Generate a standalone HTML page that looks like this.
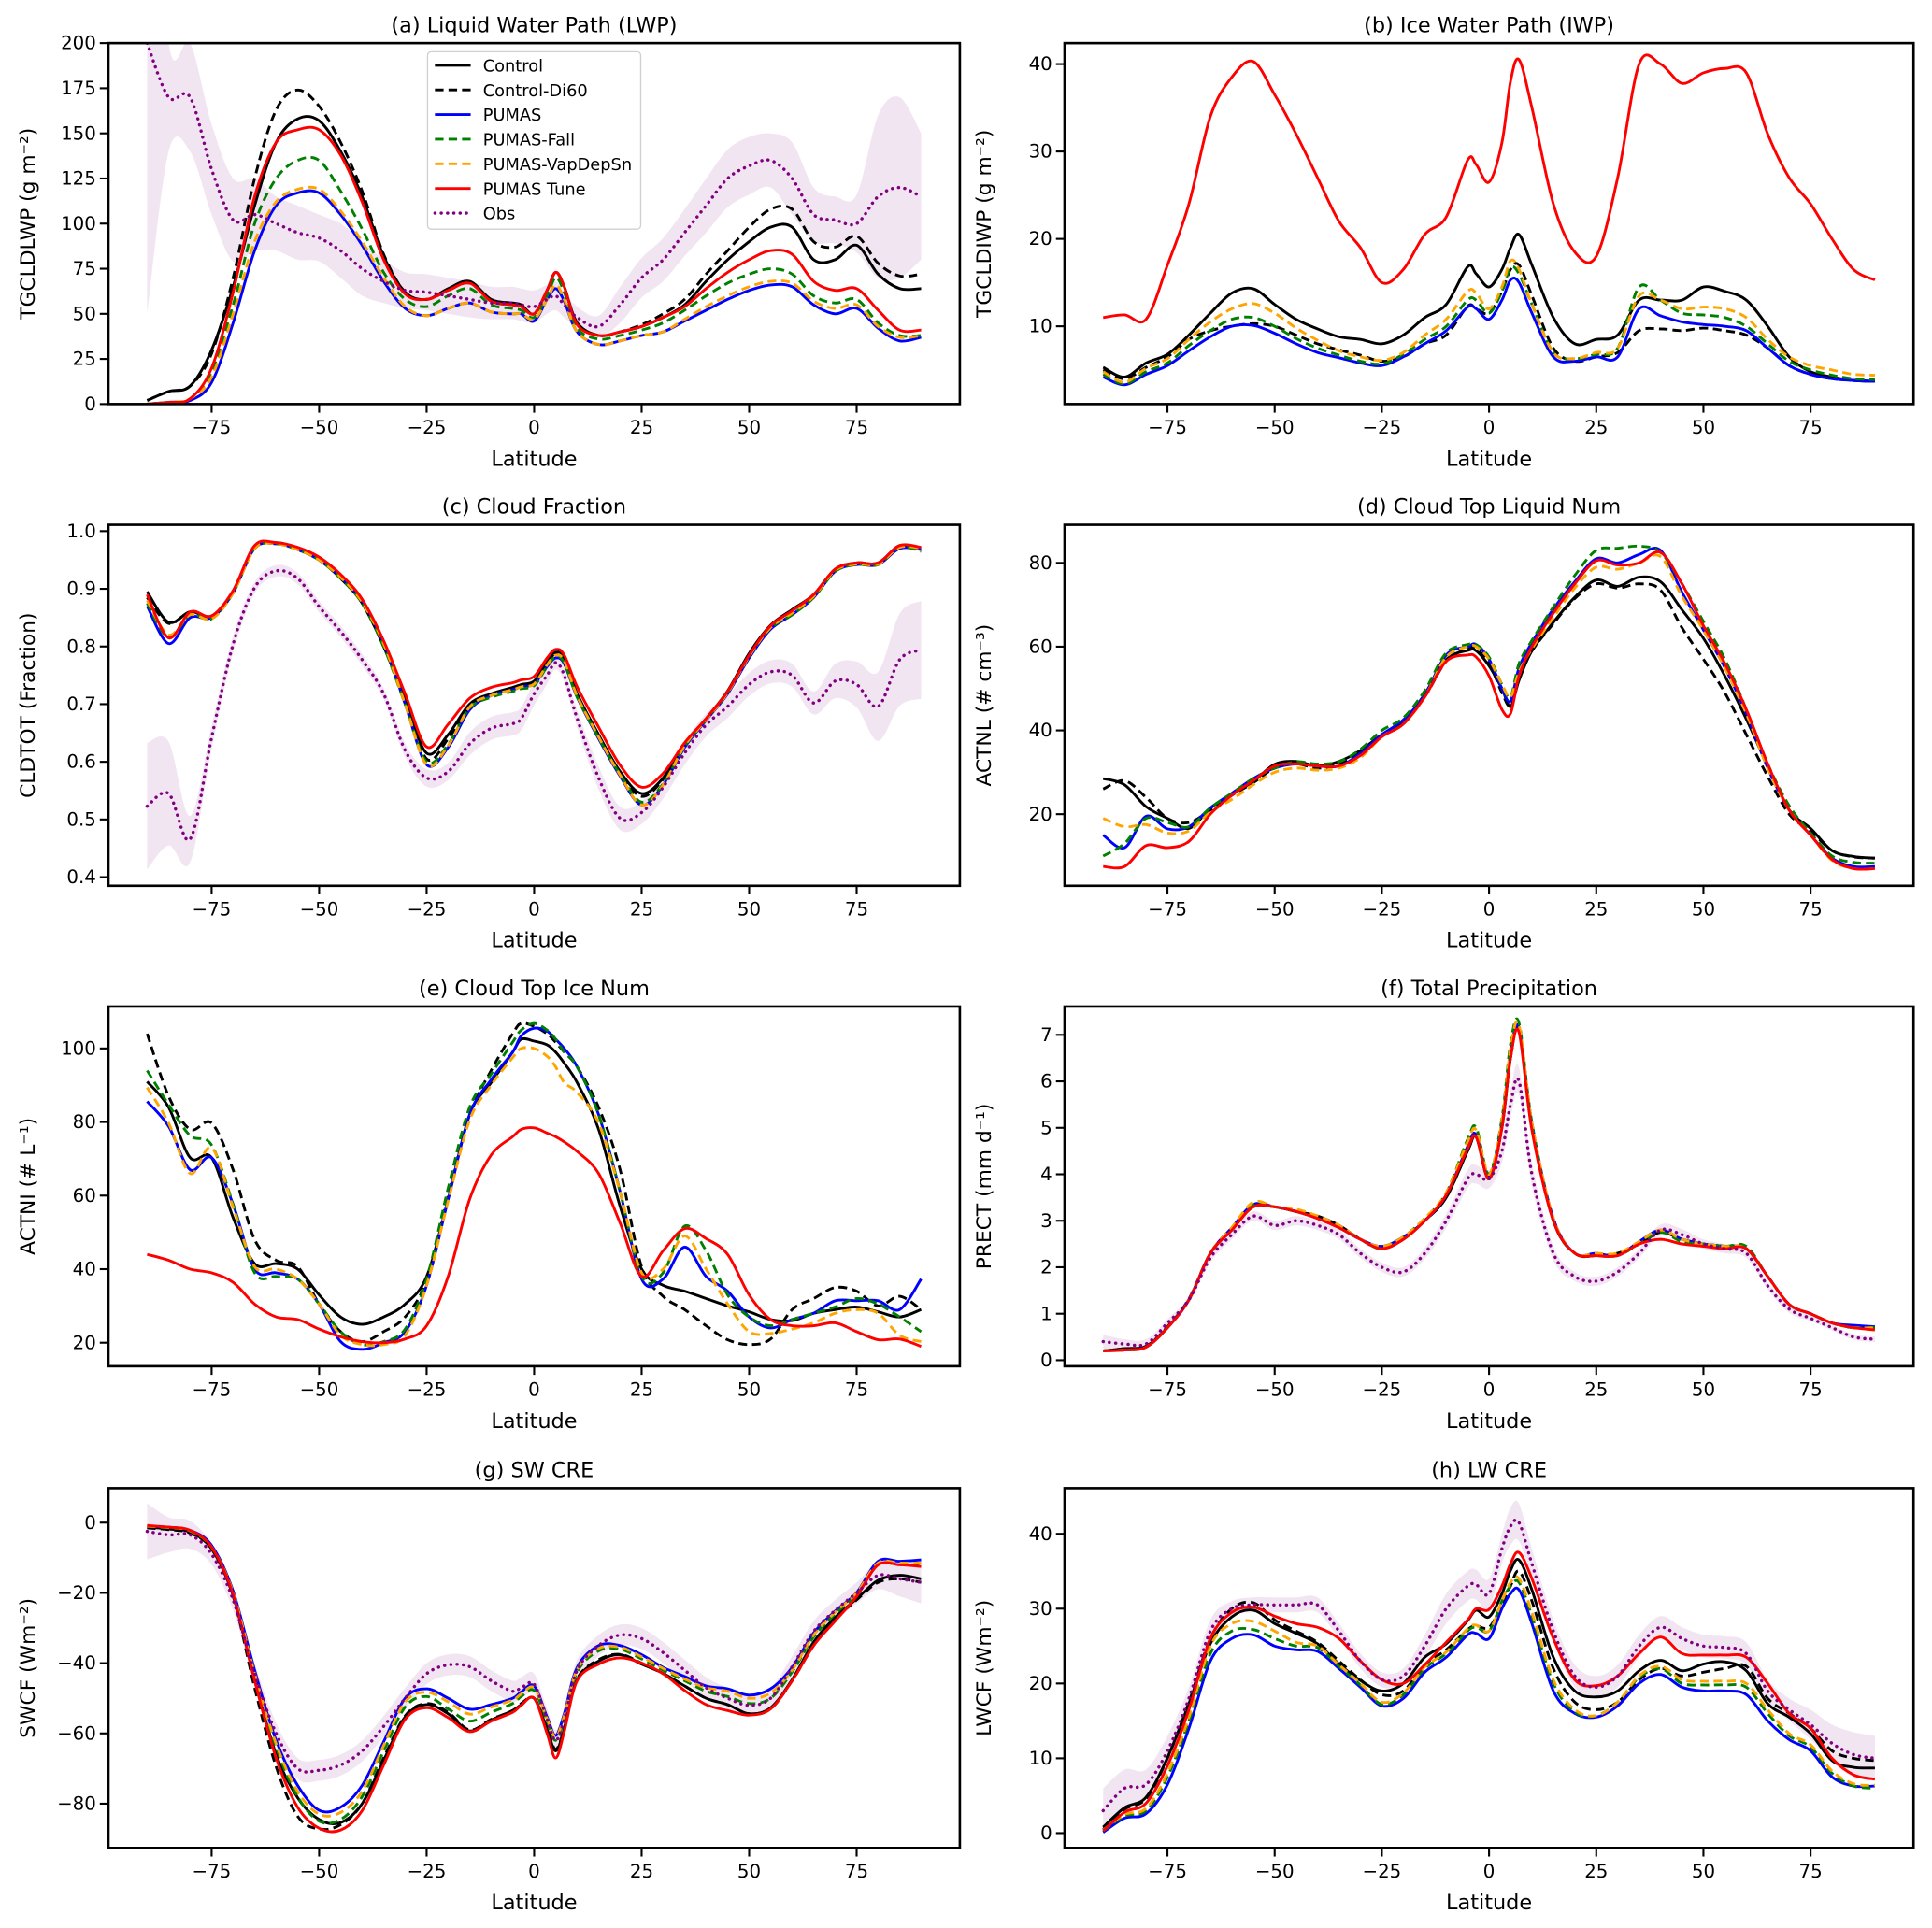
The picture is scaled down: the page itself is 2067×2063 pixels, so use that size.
<!DOCTYPE html>
<html><head><meta charset="utf-8"><style>
html,body{margin:0;padding:0;background:#fff;}
svg{display:block;font-family:"DejaVu Sans","Liberation Sans",sans-serif;}
</style></head><body>
<svg id="fig" width="2067" height="2063" viewBox="0 0 1568 1565" preserveAspectRatio="none" xmlns="http://www.w3.org/2000/svg"></svg>
<script>
const LAT=[-90,-85,-80,-75,-70,-65,-60,-55,-50,-45,-40,-35,-30,-25,-20,-15,-10,-5,-3,0,3,5,7,10,15,20,25,30,35,40,45,50,55,60,65,70,75,80,85,90];
const xTicks=[-75,-50,-25,0,25,50,75];
const seriesNames=["Control","Control-Di60","PUMAS","PUMAS-Fall","PUMAS-VapDepSn","PUMAS Tune","Obs"];

// (a) LWP
const lwpTicks=[0,25,50,75,100,125,150,175,200];
const lwpControl=[2,7,10,30,65,110,145,158,157,140,115,82,62,58,64,68,58,56,55,50,63,73,65,45,38,40,43,48,55,68,80,90,98,98,80,80,88,72,64,64];
const lwpDi60=[2,7,10,28,70,125,163,174,165,145,118,83,62,58,63,67,57,55,54,50,63,73,65,45,38,40,44,50,58,72,85,98,108,108,90,87,93,78,71,72];
const lwpPumas=[0,1,2,12,45,85,110,117,117,105,88,68,53,49,53,56,51,50,50,46,58,64,57,40,33,35,38,40,46,52,58,63,66,65,55,50,53,42,35,37];
const lwpFall=[0,1,3,18,55,100,125,135,135,118,97,73,58,54,60,64,55,53,52,48,60,70,62,42,36,38,41,45,52,60,67,72,75,72,60,56,58,45,38,38];
const lwpVap=[0,1,3,15,50,90,112,119,119,107,90,70,54,49,53,56,51,50,50,47,58,66,58,40,33,35,38,40,47,54,60,65,68,67,57,53,55,43,37,38];
const lwpTune=[0,1,3,20,62,115,145,152,152,138,112,80,61,58,63,67,57,55,54,50,63,73,65,44,38,40,43,48,54,64,73,80,85,83,68,63,64,52,41,41];
const lwpObs=[200,170,170,130,102,105,100,95,92,85,75,68,63,62,60,58,56,56,55,54,58,60,55,48,43,55,70,80,95,110,125,132,135,125,105,102,100,115,120,115];
const lwpObsErr=[150,30,30,25,23,20,15,15,13,15,15,12,10,10,10,10,9,9,9,9,8,8,7,6,6,10,11,12,13,15,16,16,15,20,15,13,16,45,50,35];

// (b) IWP
const iwpTicks=[10,20,30,40];
const iwpControl=[5.3,4.2,5.8,6.8,9,11.5,13.8,14.3,12.5,10.8,9.7,8.8,8.5,8,9,11,12.5,16.8,16,14.5,16.5,19,20.5,17,11,8,8.5,9,13,13,13,14.5,14,13,10,6.5,4.8,4.2,3.8,3.7];
const iwpDi60=[5,4,5.3,6.5,8.5,9.5,10,10.3,10,9,8,7.3,6.7,6,6.5,8,9,12.3,12,11.5,14,16.5,17,13.5,7.5,6,6.5,7,9.5,9.7,9.5,9.8,9.5,9,7.5,5.5,4.5,4,3.8,3.7];
const iwpPumas=[4.2,3.3,4.5,5.5,7.2,8.8,10,10.1,9.2,8,7,6.4,5.8,5.5,6.5,8,9.5,12.2,12,10.8,13,15.3,15,11.5,6.5,6,6.5,6.5,12,11.2,10.5,10.2,10,9.5,7.5,5.5,4.5,4,3.8,3.7];
const iwpFall=[4.5,3.4,4.8,5.8,7.8,9.5,10.8,11,10,8.6,7.5,6.7,6,5.7,6.8,8.5,10,13,13,11.5,14,16.7,16,12.5,7,6.3,6.8,7.5,14.5,13,11.5,11.3,11,10,8,6,5,4.4,4,3.9];
const iwpVap=[4.8,3.6,5.2,6.3,8.5,10.5,12,12.6,11.5,9.8,8.4,7.2,6.5,6.1,7,9,10.8,14,13.8,12,14.5,17.5,16.5,12.5,7,6.3,7,7.5,13.5,13,12,12.2,12,11,8.5,6.5,5.5,5,4.5,4.4];
const iwpTune=[11,11.3,10.8,17,24,34,38.5,40.3,36.5,32,27,22,19,15,16.5,20.5,22.5,29,28.5,26.5,31,38,40.5,35,24,18.5,18,27,40,40,37.8,39,39.5,39,32,27,24,20,16.5,15.3];

// (c) Cloud fraction
const cldTicks=[0.4,0.5,0.6,0.7,0.8,0.9,1.0];
const cldControl=[.895,.842,.86,.853,.896,.972,.98,.969,.95,.918,.875,.80,.707,.615,.647,.70,.718,.729,.734,.74,.772,.79,.78,.718,.647,.583,.545,.572,.631,.675,.723,.788,.837,.864,.89,.934,.945,.945,.975,.97];
const cldDi60=[.885,.84,.86,.85,.895,.97,.98,.97,.952,.92,.877,.80,.71,.605,.64,.695,.715,.727,.733,.738,.77,.788,.778,.716,.645,.58,.54,.57,.63,.675,.722,.787,.836,.862,.89,.933,.944,.944,.974,.97];
const cldPumas=[.87,.805,.85,.85,.893,.97,.978,.968,.95,.92,.878,.805,.70,.595,.625,.69,.715,.725,.73,.735,.765,.78,.77,.712,.64,.575,.525,.56,.625,.672,.718,.78,.83,.855,.885,.93,.942,.942,.97,.968];
const cldFall=[.875,.815,.855,.848,.893,.97,.978,.968,.95,.918,.875,.80,.70,.60,.63,.693,.712,.722,.727,.732,.765,.782,.772,.712,.642,.578,.53,.562,.627,.673,.72,.783,.832,.855,.885,.93,.942,.942,.972,.965];
const cldVap=[.88,.82,.855,.848,.893,.97,.978,.968,.95,.92,.877,.805,.70,.595,.628,.695,.715,.725,.73,.735,.768,.785,.775,.714,.643,.577,.525,.56,.628,.673,.72,.783,.833,.858,.887,.932,.943,.943,.972,.97];
const cldTune=[.89,.815,.86,.853,.897,.975,.98,.972,.955,.925,.882,.81,.718,.626,.665,.71,.729,.737,.742,.748,.78,.795,.785,.73,.66,.594,.556,.58,.633,.675,.722,.785,.836,.862,.89,.934,.945,.945,.975,.972];
const cldObs=[.523,.545,.466,.642,.804,.902,.931,.918,.869,.826,.777,.718,.62,.572,.583,.631,.658,.666,.675,.718,.75,.772,.75,.675,.572,.502,.512,.556,.615,.664,.696,.734,.756,.75,.702,.74,.734,.696,.777,.794];
const cldObsErr=[.11,.09,.04,.02,.015,.01,.01,.01,.01,.01,.01,.01,.012,.015,.015,.02,.02,.02,.02,.02,.015,.012,.012,.015,.02,.02,.02,.02,.02,.02,.02,.02,.02,.02,.02,.03,.04,.06,.08,.085];

// (d) ACTNL
const actnlTicks=[20,40,60,80];
const actnlControl=[28.5,27,21.8,19,16.6,21.4,24.8,27.8,31.9,32.6,31.5,32.6,35.2,39,42,48.7,56.9,59.1,59,55.4,50,45.7,52,59,65.8,71.8,75.9,74.4,76.6,75.5,68.8,62,53,42.7,31.5,21,16.6,11.3,9.9,9.5];
const actnlDi60=[26,28,24,19,18,21,24.5,27.5,31,32,31,32,35,39,42,48,56.5,59.5,59.5,56,49,46,53,59,65.5,71.5,75,74,75,73.5,64.5,57,49,39,29,20,16,11.3,9.8,9.5];
const actnlPumas=[15,12,19.5,16.5,17,21.5,25,28.5,31,32,31.5,31.5,34.5,39,42.5,48.5,58,60,60.5,57,50,47,55,61,69,75.5,81,80,82,83,73,64,55,44,31,21,15,9.5,7.5,7.5];
const actnlFall=[10,13,19,18,17,21.5,25,28.5,31,32.5,32,32.5,35.5,40,43,49.5,58.5,60.5,60.5,57.5,51,48,56,61.5,69.5,77,83,83.5,84,82.5,75,66,57,45,32,22,15.5,10,8.5,8.3];
const actnlVap=[19,17,17.5,15.5,16,20.5,23.5,27,30,31,30.5,31,33.5,38.5,41.5,48,57.5,60,60,57,51,48,54,59.5,67,74,79,78.5,80,81.5,72,64,55,44,31,21,15,9,7,7];
const actnlTune=[7.5,7.5,12.5,12,13.5,20,24.5,28,31.5,32,31.5,31.5,34,38.5,41.5,48,56.5,58,57.5,53,45,44,53,60,68,75,80.5,79.5,80,82.5,75,65,56,45,32,21,15,9.2,7,7];

// (e) ACTNI
const actniTicks=[20,40,60,80,100];
const actniControl=[91,84,70.3,70.3,54,41.5,41.5,40,33,27,25,27,30.5,38,59,82,90.7,99,102.5,102,101,99,96,90.7,78,57,40,35.6,34,32,30,28.4,26.3,26,28,29,29.7,28.4,27,29];
const actniDi60=[104,87,78,79.7,67,48,42.4,40.7,30.5,23,20.3,23,27,37,60,82,94,104,106.8,106,104,101.7,99,95,84,67,40.6,32.6,29,24.6,20.8,19.5,21,29,32,35,34,30,32.6,29];
const actniPumas=[85.6,78.8,67,70.3,57.6,40,39,37.3,30.5,20.3,18.2,20,23,35.6,59,82,91.5,99,103.4,105.5,104.7,102.5,100,95,82,61,37.3,37.3,46,38,34,27,24,26.3,28,31.4,31.4,31.4,29,37.3];
const actniFall=[94,84.7,76.3,73.7,57.6,39,38,37.3,30.5,23,19.5,20.3,23.7,37.3,62,84,93,101.7,105,106.8,105,102.5,99,95,82,61,38,39,51.7,45,33,27,24.6,26.3,28,29.7,32,30.5,27,23];
const actniVap=[89.4,79.7,66,73,56.8,40.7,40,37.3,30.5,22,19.5,19.5,22,35.6,58.5,80.5,90,97.5,100,100,97.9,95,90.7,88,79.7,61,39,40,49,40,30.5,23,22.5,23.7,25.4,28,29,28,22,20.3];
const actniTune=[44,42.4,40,39,36.4,30.5,27,26.3,23.7,21.6,20.3,20,21,24.6,38,59,71,76,78,78.4,77,76,74.6,72,66,52.5,38,45,51,48.3,44,33,26.3,24.6,24.6,25.4,23,20.8,21,19];

// (f) PRECT
const prectTicks=[0,1,2,3,4,5,6,7];
const prectControl=[.2,.25,.3,.7,1.3,2.3,2.8,3.3,3.3,3.2,3.1,2.9,2.6,2.4,2.6,3.0,3.5,4.5,4.8,3.9,5.0,6.5,7.1,5.0,3.0,2.3,2.25,2.3,2.5,2.75,2.6,2.5,2.45,2.4,1.8,1.2,1.0,.8,.7,.7];
const prectDi60=[.2,.25,.3,.72,1.32,2.3,2.8,3.3,3.3,3.2,3.1,2.9,2.6,2.4,2.6,3.0,3.5,4.5,4.8,3.9,5.0,6.5,7.1,5.0,3.0,2.3,2.25,2.3,2.5,2.75,2.6,2.5,2.45,2.4,1.8,1.2,1.0,.8,.7,.7];
const prectPumas=[.2,.22,.28,.7,1.3,2.3,2.85,3.35,3.3,3.2,3.05,2.85,2.6,2.45,2.65,3.0,3.55,4.6,4.85,3.95,5.1,6.6,7.15,5.1,3.05,2.3,2.3,2.25,2.55,2.8,2.6,2.5,2.45,2.4,1.8,1.2,1.0,.8,.75,.72];
const prectFall=[.2,.22,.28,.7,1.3,2.3,2.85,3.35,3.3,3.2,3.05,2.85,2.6,2.4,2.65,3.05,3.6,4.75,5.0,4.0,5.2,6.8,7.25,5.1,3.0,2.3,2.25,2.25,2.5,2.75,2.55,2.5,2.45,2.45,1.8,1.2,1.0,.8,.7,.7];
const prectVap=[.2,.22,.28,.7,1.3,2.3,2.85,3.4,3.3,3.25,3.1,2.9,2.6,2.45,2.65,3.05,3.6,4.7,4.95,4.0,5.15,6.7,7.2,5.1,3.05,2.3,2.3,2.3,2.55,2.8,2.6,2.5,2.45,2.4,1.8,1.2,1.0,.8,.7,.7];
const prectTune=[.2,.22,.28,.7,1.3,2.3,2.8,3.3,3.3,3.2,3.05,2.85,2.6,2.4,2.6,3.0,3.55,4.55,4.8,3.9,5.0,6.5,7.05,4.95,3.0,2.3,2.25,2.25,2.5,2.6,2.5,2.45,2.4,2.4,1.8,1.2,1.0,.8,.7,.65];
const prectObs=[.4,.35,.35,.8,1.3,2.2,2.7,3.1,2.9,3.0,2.9,2.7,2.3,2.0,1.9,2.3,3.0,3.9,4.0,3.9,4.5,5.5,6.0,4.0,2.3,1.8,1.7,1.9,2.3,2.8,2.7,2.5,2.4,2.3,1.6,1.1,.9,.7,.5,.45];
const prectObsErr=[.15,.1,.1,.08,.08,.1,.1,.1,.1,.1,.1,.1,.1,.1,.1,.12,.15,.2,.2,.2,.25,.3,.3,.25,.15,.1,.1,.1,.1,.12,.12,.1,.1,.1,.08,.08,.06,.06,.06,.06];

// (g) SWCF
const swcfTicks=[0,-20,-40,-60,-80];
const swcfControl=[-1.3,-1.8,-2.7,-7.5,-20.8,-44.7,-66,-78.3,-84.5,-85.4,-80,-67.7,-55.3,-51.8,-54.4,-59.3,-56.2,-53.5,-51.8,-50,-58.8,-65,-58.8,-44.7,-39.4,-37.6,-40.3,-42.9,-46.5,-50,-51.8,-54.4,-52.7,-44.7,-34,-27,-21.7,-16.4,-15,-16];
const swcfDi60=[-1.5,-2,-3,-7.5,-21,-47,-69.5,-83.6,-87.2,-86,-80,-67,-55,-51.5,-54,-59,-56,-53.5,-51.5,-50,-58.5,-64.5,-58.5,-44.5,-39,-37.5,-40,-43,-46.5,-50,-51.8,-54.4,-53,-45,-35,-27.5,-22,-17,-16,-17];
const swcfPumas=[-1,-1.3,-2.2,-6.5,-19.5,-42,-62,-74.8,-81.9,-81,-74.8,-62.4,-50,-47.3,-50,-53.1,-51.8,-50,-48.2,-46.5,-55.3,-60.6,-54.4,-41.2,-35,-35,-37.6,-41.2,-43.8,-46.5,-47.3,-49.1,-47.3,-41.2,-31.4,-25.2,-19.9,-11,-11,-10.6];
const swcfFall=[-1,-1.4,-2.4,-7,-20,-43.5,-64,-78,-85,-84.5,-78,-65,-52.5,-49.5,-53,-56.5,-54,-51.5,-49.5,-47.8,-56.5,-62,-56,-42.5,-36.5,-36,-38.8,-42,-45,-48,-49.5,-51.5,-50,-42.5,-32.5,-26,-20.5,-12,-12,-12];
const swcfVap=[-1,-1.4,-2.3,-7,-20,-43,-63,-76.5,-83,-82.5,-76.5,-63.5,-51,-48.3,-51,-54.5,-52.5,-50.5,-48.8,-47,-55.8,-61,-55,-41.8,-35.8,-35.5,-38.2,-41.5,-44.5,-47,-48,-50,-48.5,-42,-32,-25.5,-20,-11.5,-11.5,-11.5];
const swcfTune=[-0.8,-1.3,-2.2,-7,-20.5,-45,-67,-81,-87,-87.5,-82,-69,-56,-52.7,-55.5,-59.5,-56.5,-54,-52,-50,-60,-67,-59.5,-45,-40.3,-38.5,-40,-43,-47.8,-51.8,-53.5,-54.8,-53,-45,-35,-28,-21,-12,-12,-12.5];
const swcfObs=[-2.5,-3.5,-3.5,-9,-22,-43,-60,-70,-70.5,-69,-65,-58,-50,-43,-40.5,-41,-45,-48,-47,-46,-56,-62,-56,-42,-35,-32,-33,-37,-42,-47,-50,-52,-50,-41,-31,-25,-20,-15,-16,-17];
const swcfObsErr=[8,5,4,3,3,3,3,3,3,3,3,3,3,3,3,3,3,3,3,3,3,3,3,3,3,3,3,3,3,3,3,3,3,3,3,3,3,4,5,6];

// (h) LWCF
const lwcfTicks=[0,10,20,30,40];
const lwcfControl=[0.8,3.4,4.8,10.1,17.3,25.3,28.9,29.8,28,26.7,25.3,22.6,20.4,19,20,23.5,25.3,28.4,29.8,28.9,32,35.1,36.5,32.5,23.5,19,18.2,19,21.7,23.1,21.7,22.6,22.9,21.7,17.3,15.5,13.3,9.7,8.8,8.7];
const lwcfDi60=[.5,3.2,4.6,10,17.5,26,30,30.8,28.5,27,25.5,23,20.5,18.5,19,22.5,24.5,27.2,27.7,27.5,30.5,33,35,31,22,17.5,16.5,17.5,20.5,22,21,21.5,22,22.3,18,16,14,11,10,9.7];
const lwcfPumas=[0.1,2,2.6,6.5,14,23,26,26.5,25,24.5,24.3,22,19.5,17,18,21.5,23.5,26.5,26.7,26,30,32,32.5,28,19,16,15.5,17,20,21.2,19.5,19,19,18.5,15,12.5,11,7.5,6.3,6.3];
const lwcfFall=[.3,2.3,3,7.5,15,24,27,27.2,26,25,24.8,22.3,19.8,17.2,18.5,22,24,27,27.5,27,31,33,33.5,29,20,16.2,15.7,17.5,20.8,22,20,19.8,19.8,19.5,16,13,11.5,8,6.3,6];
const lwcfVap=[.4,2.5,3.3,8,15.5,25,28,28.3,27,25.5,25,22.5,20,17.5,18.7,22.2,24.2,27.3,27.8,27,31,33.5,34,29.5,20.5,16.5,15.7,17.5,21,22.3,20.5,20.3,20.3,20,16.5,13.3,11.8,8.3,6.6,6.4];
const lwcfTune=[.3,2.8,4,9,16.5,26,29.5,30.2,29,28,27.5,26,23,20.5,20,22.5,25.5,28.5,30,29.9,33,36,37.5,34,26,20.5,19.7,21,24,26.2,24,23.8,23.8,23.5,20,16,14,10,7.8,7.2];
const lwcfObs=[3,6,6.5,11,18,27,30,30.5,30.5,30.5,30.5,27,23,20.5,21,25,30,33,33.2,32,38,41,41.5,36,27,21,19.5,21,25,27.5,26,25,24.8,24,19,16.5,14.5,12,10.5,10];
const lwcfObsErr=[3,2.5,2,2,1.5,1.5,1,1,1,1,1,1,1,1,1,1.5,2,2,2,2,2,2.5,2.5,2,1.5,1.5,1.5,1.5,1.5,1.5,1.5,1.5,1.5,1.5,1.5,1.5,2,2.5,3,3];

const STY=[
 {c:"#000000",d:null},{c:"#000000",d:"7,4"},{c:"#0000ff",d:null},{c:"#008000",d:"7,4"},
 {c:"#ffa500",d:"7,4"},{c:"#ff0000",d:null},{c:"#800080",d:"0.1,5"}];

const panels=[
 {id:"a",box:[88,35,779,328],ylim:[0,200],ticks:lwpTicks,dec:0,title:"(a) Liquid Water Path (LWP)",ylabel:"TGCLDLWP (g m⁻²)",s:[lwpControl,lwpDi60,lwpPumas,lwpFall,lwpVap,lwpTune],obs:lwpObs,err:lwpObsErr},
 {id:"b",box:[864,35,1553,328],ylim:[1.1,42.4],ticks:iwpTicks,dec:0,title:"(b) Ice Water Path (IWP)",ylabel:"TGCLDIWP (g m⁻²)",s:[iwpControl,iwpDi60,iwpPumas,iwpFall,iwpVap,iwpTune]},
 {id:"c",box:[88,426,779,719],ylim:[0.385,1.011],ticks:cldTicks,dec:1,title:"(c) Cloud Fraction",ylabel:"CLDTOT (Fraction)",s:[cldControl,cldDi60,cldPumas,cldFall,cldVap,cldTune],obs:cldObs,err:cldObsErr},
 {id:"d",box:[864,426,1553,719],ylim:[2.9,89.1],ticks:actnlTicks,dec:0,title:"(d) Cloud Top Liquid Num",ylabel:"ACTNL (# cm⁻³)",s:[actnlControl,actnlDi60,actnlPumas,actnlFall,actnlVap,actnlTune]},
 {id:"e",box:[88,817,779,1109],ylim:[13.6,111.4],ticks:actniTicks,dec:0,title:"(e) Cloud Top Ice Num",ylabel:"ACTNI (# L⁻¹)",s:[actniControl,actniDi60,actniPumas,actniFall,actniVap,actniTune]},
 {id:"f",box:[864,817,1553,1109],ylim:[-0.13,7.61],ticks:prectTicks,dec:0,title:"(f) Total Precipitation",ylabel:"PRECT (mm d⁻¹)",s:[prectControl,prectDi60,prectPumas,prectFall,prectVap,prectTune],obs:prectObs,err:prectObsErr},
 {id:"g",box:[88,1208,779,1500],ylim:[-92.6,9.8],ticks:swcfTicks,dec:0,title:"(g) SW CRE",ylabel:"SWCF (Wm⁻²)",s:[swcfControl,swcfDi60,swcfPumas,swcfFall,swcfVap,swcfTune],obs:swcfObs,err:swcfObsErr},
 {id:"h",box:[864,1208,1553,1500],ylim:[-1.98,46.1],ticks:lwcfTicks,dec:0,title:"(h) LW CRE",ylabel:"LWCF (Wm⁻²)",s:[lwcfControl,lwcfDi60,lwcfPumas,lwcfFall,lwcfVap,lwcfTune],obs:lwcfObs,err:lwcfObsErr}
];

const NS="http://www.w3.org/2000/svg";
const svg=document.getElementById("fig");
function mk(tag,attrs,parent){const e=document.createElementNS(NS,tag);for(const k in attrs)e.setAttribute(k,attrs[k]);(parent||svg).appendChild(e);return e;}
function smooth(p){let d="M"+p[0][0].toFixed(2)+","+p[0][1].toFixed(2);
 for(let i=0;i<p.length-1;i++){const p0=p[i-1]||p[i],p1=p[i],p2=p[i+1],p3=p[i+2]||p2;
  const c1x=p1[0]+(p2[0]-p0[0])/6,c1y=p1[1]+(p2[1]-p0[1])/6,c2x=p2[0]-(p3[0]-p1[0])/6,c2y=p2[1]-(p3[1]-p1[1])/6;
  d+=" C"+c1x.toFixed(2)+","+c1y.toFixed(2)+" "+c2x.toFixed(2)+","+c2y.toFixed(2)+" "+p2[0].toFixed(2)+","+p2[1].toFixed(2);}
 return d;}
function fmt(v,dec){const s=v.toFixed(dec);return s.replace("-","−");}

panels.forEach(P=>{
 const [x0,y0,x1,y1]=P.box;
 const X=v=>x0+(v+99)/198*(x1-x0);
 const Y=v=>y1-(v-P.ylim[0])/(P.ylim[1]-P.ylim[0])*(y1-y0);
 const g=mk("g",{});
 
 
 const cp=mk("clipPath",{id:"clip"+P.id},g);
 mk("rect",{x:x0,y:y0,width:x1-x0,height:y1-y0},cp);
 const plot=mk("g",{"clip-path":"url(#clip"+P.id+")"},g);
 
 
 if(P.obs){
  const up=LAT.map((l,i)=>[X(l),Y(P.obs[i]+P.err[i])]);
  const lo=LAT.map((l,i)=>[X(l),Y(P.obs[i]-P.err[i])]).reverse();
  const band=mk("path",{d:smooth(up)+" L"+lo[0][0]+","+lo[0][1]+smooth(lo).slice(1).replace(/^[^C]*/,"")+" Z",fill:"#800080","fill-opacity":"0.1",stroke:"none"},plot);
  
  
 }
 P.s.forEach((arr,k)=>{
  const pts=LAT.map((l,i)=>[X(l),Y(arr[i])]);
  const ln=mk("path",{d:smooth(pts),fill:"none",stroke:STY[k].c,"stroke-width":2.2,"stroke-linejoin":"round"},plot);
  if(STY[k].d)ln.setAttribute("stroke-dasharray",STY[k].d);
  
  
 });
 if(P.obs){
  const pts=LAT.map((l,i)=>[X(l),Y(P.obs[i])]);
  const ln=mk("path",{d:smooth(pts),fill:"none",stroke:STY[6].c,"stroke-width":2.6,"stroke-linecap":"round","stroke-dasharray":STY[6].d},plot);
  
  
 }
 const fr=mk("rect",{x:x0,y:y0,width:x1-x0,height:y1-y0,fill:"none",stroke:"#000","stroke-width":2},g);
 
 
 xTicks.forEach(t=>{
  mk("line",{x1:X(t),x2:X(t),y1:y1,y2:y1+7,stroke:"#000","stroke-width":1.6},g);
  const tx=mk("text",{x:X(t),y:y1+24,"text-anchor":"middle","font-size":15,fill:"#000"},g);
  tx.textContent=fmt(t,0);
  
  
 });
 P.ticks.forEach(t=>{
  mk("line",{x1:x0-7,x2:x0,y1:Y(t),y2:Y(t),stroke:"#000","stroke-width":1.6},g);
  const tx=mk("text",{x:x0-10,y:Y(t)+5,"text-anchor":"end","font-size":15,fill:"#000"},g);
  tx.textContent=fmt(t,P.dec);
  
  
 });
 const tt=mk("text",{x:(x0+x1)/2,y:y0-9,"text-anchor":"middle","font-size":17,fill:"#000"},g);
 tt.textContent=P.title;
 
 
 const xl=mk("text",{x:(x0+x1)/2,y:y1+50,"text-anchor":"middle","font-size":17,fill:"#000"},g);
 xl.textContent="Latitude";
 
 
 const yx=x0-60,yy=(y0+y1)/2;
 const yl=mk("text",{x:yx,y:yy,"text-anchor":"middle","font-size":16.5,fill:"#000",transform:"rotate(-90 "+yx+" "+yy+")"},g);
 yl.textContent=P.ylabel;
 
 
});

// legend in panel (a)
const lg=mk("g",{});


const lb=mk("rect",{x:347,y:42,width:173,height:144,rx:3,fill:"#fff","fill-opacity":0.85,stroke:"#d0d0d0","stroke-width":1},lg);


seriesNames.forEach((n,k)=>{
 const y=53+k*20;
 const ln=mk("line",{x1:353,x2:382,y1:y,y2:y,stroke:STY[k].c,"stroke-width":k==6?2.6:2.2,"stroke-linecap":k==6?"round":"butt"},lg);
 if(STY[k].d)ln.setAttribute("stroke-dasharray",k==6?"0.1,5":"7,4");
 
 
 const tx=mk("text",{x:392,y:y+5,"font-size":13.5,fill:"#000"},lg);
 tx.textContent=n;
 
 
});
</script>
</body></html>
